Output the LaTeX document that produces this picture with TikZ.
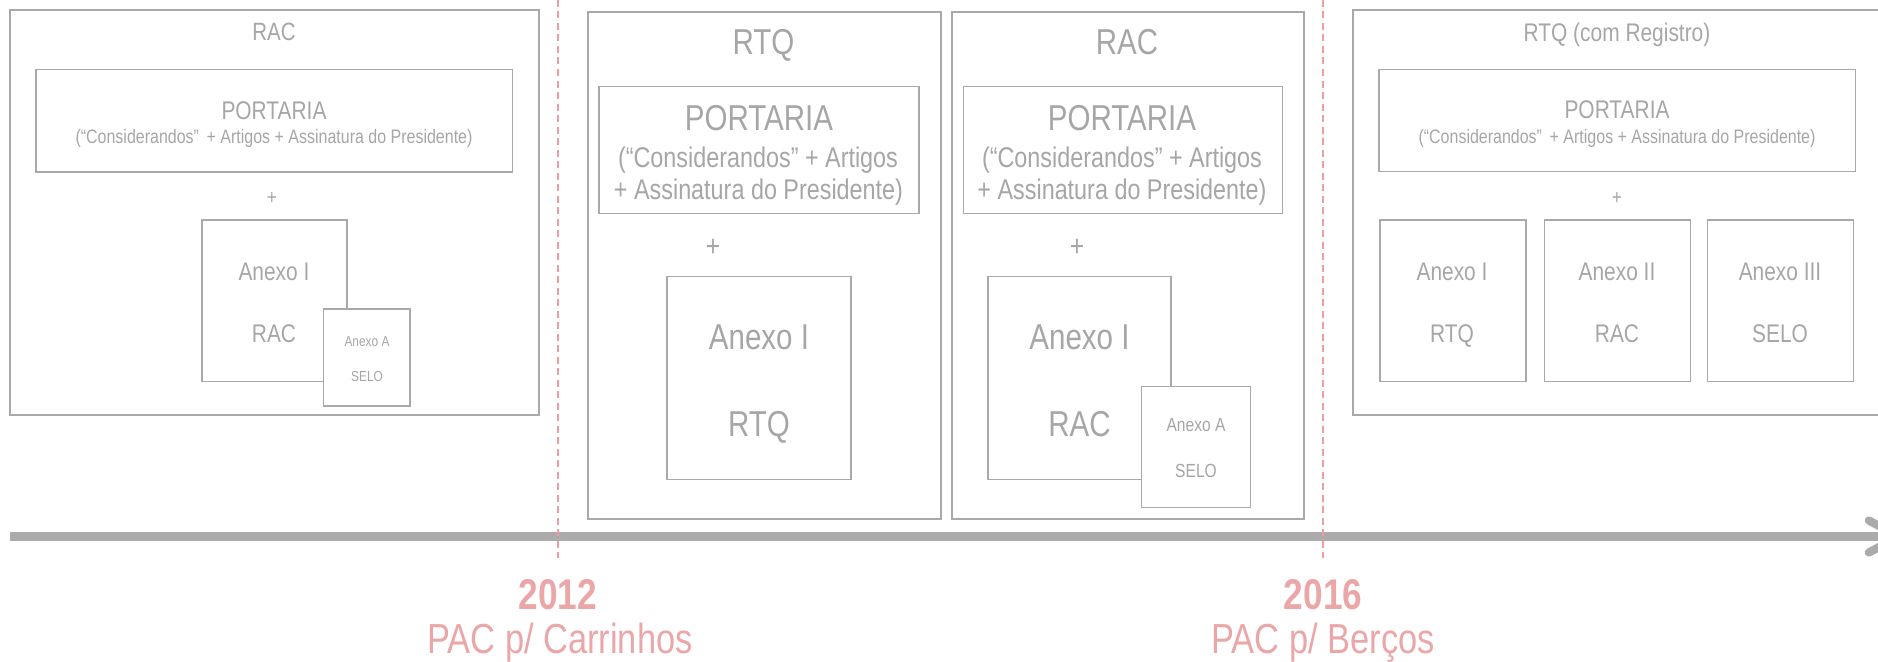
\documentclass[tikz,border=0pt]{standalone}
\usepackage{fontspec}
\setmainfont{Liberation Sans}[FakeStretch=0.82]
\usetikzlibrary{arrows.meta}
\definecolor{tgray}{HTML}{A6A6A6}
\definecolor{bgray}{HTML}{A9A9A9}
\definecolor{lgray}{HTML}{ABABAB}
\definecolor{pinkred}{HTML}{EBA7A7}
\definecolor{dashred}{HTML}{EE9E9E}
\newcommand\fsz[1]{\fontsize{#1}{#1}\selectfont}
\begin{document}
\begin{tikzpicture}[x=1pt,y=-1pt,
  panel/.style={draw=bgray, line width=2pt, inner sep=0pt, outer sep=0pt},
  box/.style={draw=bgray, line width=1.4pt, inner sep=0pt, outer sep=0pt},
  overbox/.style={box, fill=white},
  lbl/.style={text=tgray, inner sep=0pt, anchor=base},
  plus/.style={text=tgray, inner sep=0pt, anchor=center},
  yearlbl/.style={text=pinkred, inner sep=0pt, anchor=base, font=\fsz{43}\bfseries},
  paclbl/.style={text=pinkred, inner sep=0pt, anchor=base, font=\fsz{42}},
  divider/.style={draw=dashred, line width=2.4pt, dash pattern=on 7pt off 4.5pt},
  timeline/.style={draw=lgray, line width=8.3pt}]
\useasboundingbox (0,0) rectangle (1878,661);
\clip (0,0) rectangle (1878,661);

% ---------- left panel (RAC) ----------
\node[panel, minimum width=529.4pt, minimum height=405pt] (p1) at (274.3,212.5) {};
\node[lbl, font=\fsz{25}] (p1t) at (274,40.7) {RAC};
\node[box, minimum width=476.5pt, minimum height=102.5pt] (p1port) at (274.25,120.75) {};
\node[lbl, font=\fsz{25.5}] (p1pt) at (274,119.3) {PORTARIA};
\node[lbl, font=\fsz{19.5}] (p1ps) at (274,143.3) {(“Considerandos”\, + Artigos + Assinatura do Presidente)};
\node[plus, font=\fsz{21}] (p1plus) at (272,198) {+};
\node[box, minimum width=145pt, minimum height=161.7pt] (p1ax) at (274.5,300.8) {};
\node[lbl, font=\fsz{25.5}] (p1axa) at (274,280.7) {Anexo I};
\node[lbl, font=\fsz{25.5}] (p1axb) at (274,342.3) {RAC};
\node[overbox, minimum width=86.4pt, minimum height=97pt] (p1aa) at (366.8,357.5) {};
\node[lbl, font=\fsz{14.5}] (p1aaa) at (367,346.7) {Anexo A};
\node[lbl, font=\fsz{14.5}] (p1aab) at (367,381.7) {SELO};

% ---------- middle panel (RTQ) ----------
\node[panel, minimum width=353pt, minimum height=507pt] (p2) at (764,265.5) {};
\node[lbl, font=\fsz{36}] (p2t) at (763.5,54.6) {RTQ};
\node[box, minimum width=320pt, minimum height=127pt] (p2port) at (758.8,150) {};
\node[lbl, font=\fsz{36}] (p2pt) at (759,130.5) {PORTARIA};
\node[lbl, font=\fsz{28.5}] (p2pa) at (758,167.5) {(“Considerandos” + Artigos};
\node[lbl, font=\fsz{28.5}] (p2pb) at (758.5,199) {+ Assinatura do Presidente)};
\node[plus, font=\fsz{30}] (p2plus) at (713,248) {+};
\node[box, minimum width=183.7pt, minimum height=203.4pt] (p2ax) at (759,378) {};
\node[lbl, font=\fsz{36}] (p2axa) at (759,349.5) {Anexo I};
\node[lbl, font=\fsz{36}] (p2axb) at (759,436) {RTQ};

% ---------- middle panel (RAC) ----------
\node[panel, minimum width=352.3pt, minimum height=507pt] (p3) at (1127.9,265.5) {};
\node[lbl, font=\fsz{36}] (p3t) at (1127,54.6) {RAC};
\node[box, minimum width=319pt, minimum height=127pt] (p3port) at (1122.8,150) {};
\node[lbl, font=\fsz{36}] (p3pt) at (1122,130.5) {PORTARIA};
\node[lbl, font=\fsz{28.5}] (p3pa) at (1122,167.5) {(“Considerandos” + Artigos};
\node[lbl, font=\fsz{28.5}] (p3pb) at (1122,199) {+ Assinatura do Presidente)};
\node[plus, font=\fsz{30}] (p3plus) at (1077,248) {+};
\node[box, minimum width=183pt, minimum height=203.4pt] (p3ax) at (1079.5,378) {};
\node[lbl, font=\fsz{36}] (p3axa) at (1079.5,349.5) {Anexo I};
\node[lbl, font=\fsz{36}] (p3axb) at (1079.5,436) {RAC};
\node[overbox, minimum width=108.5pt, minimum height=121.5pt] (p3aa) at (1196,447) {};
\node[lbl, font=\fsz{19}] (p3aaa) at (1196,431) {Anexo A};
\node[lbl, font=\fsz{19}] (p3aab) at (1196,477.5) {SELO};

% ---------- right panel (RTQ com Registro) ----------
\node[panel, minimum width=547pt, minimum height=405pt] (p4) at (1626.5,212.5) {};
\node[lbl, font=\fsz{25.5}] (p4t) at (1617,41.5) {RTQ (com Registro)};
\node[box, minimum width=476.6pt, minimum height=102.4pt] (p4port) at (1617.3,120.5) {};
\node[lbl, font=\fsz{25.5}] (p4pt) at (1617,118.3) {PORTARIA};
\node[lbl, font=\fsz{19.5}] (p4ps) at (1617,143) {(“Considerandos”\, + Artigos + Assinatura do Presidente)};
\node[plus, font=\fsz{21}] (p4plus) at (1617,198) {+};
\node[box, minimum width=146pt, minimum height=161.7pt] (p4a1) at (1453.1,300.8) {};
\node[box, minimum width=146pt, minimum height=161.7pt] (p4a2) at (1617.2,300.8) {};
\node[box, minimum width=146pt, minimum height=161.7pt] (p4a3) at (1780.2,300.8) {};
\node[lbl, font=\fsz{25.5}] (p4a1a) at (1452,280.7) {Anexo I};
\node[lbl, font=\fsz{25.5}] (p4a1b) at (1452,342.3) {RTQ};
\node[lbl, font=\fsz{25.5}] (p4a2a) at (1617,280.7) {Anexo II};
\node[lbl, font=\fsz{25.5}] (p4a2b) at (1617,342.3) {RAC};
\node[lbl, font=\fsz{25.5}] (p4a3a) at (1780,280.7) {Anexo III};
\node[lbl, font=\fsz{25.5}] (p4a3b) at (1780,342.3) {SELO};

% ---------- timeline ----------
\coordinate (tlstart) at (10,536.5);
\coordinate (tlend) at (1903,536.5);
\draw[timeline, -{Straight Barb[length={30pt 0 0},width={32pt 0 0},round]}] (tlstart) -- (tlend);

\coordinate (d1top) at (558,0);
\coordinate (d1bot) at (558,558);
\coordinate (d2top) at (1323,0);
\coordinate (d2bot) at (1323,558);
\draw[divider] (d1top) -- (d1bot);
\draw[divider] (d2top) -- (d2bot);

\node[yearlbl] (y1) at (558,609) {2012};
\node[paclbl] (y1l) at (560,653) {PAC p/ Carrinhos};
\node[yearlbl] (y2) at (1323,609) {2016};
\node[paclbl] (y2l) at (1323,653) {PAC p/ Berços};
\end{tikzpicture}
\end{document}
